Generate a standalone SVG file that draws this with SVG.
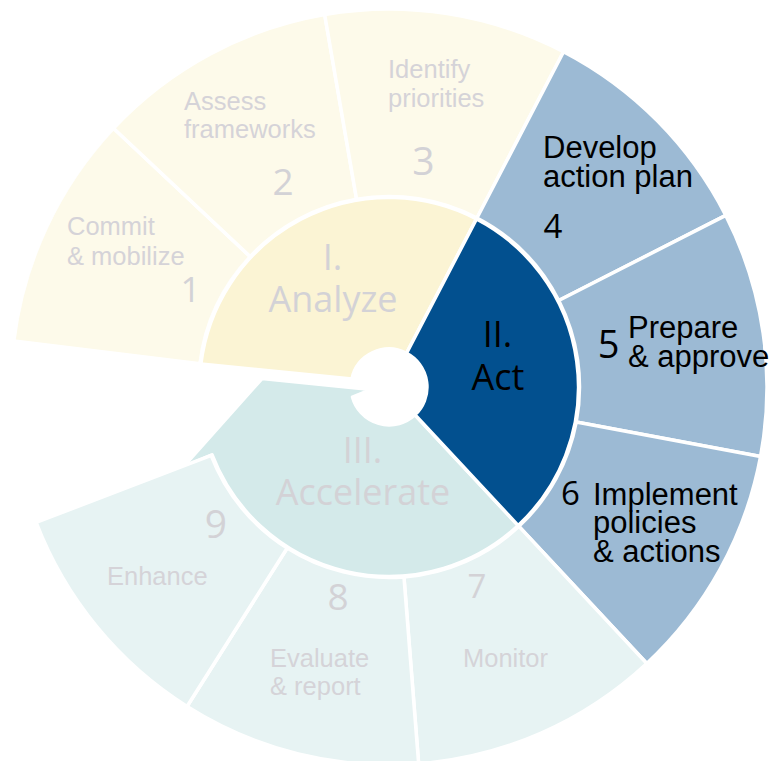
<svg xmlns="http://www.w3.org/2000/svg" width="772" height="761" viewBox="0 0 772 761">
<style>
.sh{stroke:#FFFFFF;stroke-width:3.5;stroke-linejoin:round}
.y1{fill:#FBF4D4}.y2{fill:#FDFAEA}
.b1{fill:#02508F}.b2{fill:#9CBAD4}
.t1{fill:#D4EAEA}.t2{fill:#E7F3F3}
.lab{font-family:"Liberation Sans",Arial,sans-serif}
.g{fill:#D5D3D8;font-size:25.5px}
.k{fill:#000000;font-size:31px}
.num{font-family:"Open Sans","Noto Sans",sans-serif;text-anchor:middle}
.big{font-family:"Open Sans","Noto Sans",sans-serif;font-size:36px;text-anchor:middle}
.gi{fill:#D3D2D6}
</style>
<rect width="772" height="761" fill="#FFFFFF"/>
<g id="ring-outer">
<g id="seg1"><path class="sh y2" d="M199.92,363.78 L13.82,340.93 A378,378 0 0 1 113.45,128.24 L250.13,256.59 A190.5,190.5 0 0 0 199.92,363.78 Z"/>
<text class="lab g" x="67" y="235">Commit</text><text class="lab g" x="67" y="265">&amp; mobilize</text>
<text class="num gi" x="190.5" y="302" font-size="35">1</text></g>
<g id="seg2"><path class="sh y2" d="M250.13,256.59 L113.45,128.24 A378,378 0 0 1 324.66,14.51 L356.57,199.28 A190.5,190.5 0 0 0 250.13,256.59 Z"/>
<text class="lab g" x="184" y="110">Assess</text><text class="lab g" x="184" y="138">frameworks</text>
<text class="num gi" x="283" y="195" font-size="37">2</text></g>
<g id="seg3"><path class="sh y2" d="M356.57,199.28 L324.66,14.51 A378,378 0 0 1 563.54,51.71 L476.96,218.02 A190.5,190.5 0 0 0 356.57,199.28 Z"/>
<text class="lab g" x="388" y="78">Identify</text><text class="lab g" x="388" y="107">priorities</text>
<text class="num gi" x="423.5" y="175" font-size="39">3</text></g>
<g id="seg4"><path class="sh b2" d="M476.96,218.02 L563.54,51.71 A378,378 0 0 1 725.80,215.39 L558.74,300.51 A190.5,190.5 0 0 0 476.96,218.02 Z"/>
<text class="lab k" x="543" y="158">Develop</text><text class="lab k" x="543" y="187">action plan</text>
<text class="num" x="553" y="238" font-size="33">4</text></g>
<g id="seg5"><path class="sh b2" d="M558.74,300.51 L725.80,215.39 A378,378 0 0 1 760.55,456.53 L576.25,422.04 A190.5,190.5 0 0 0 558.74,300.51 Z"/>
<text class="lab k" x="628" y="338">Prepare</text><text class="lab k" x="628" y="367">&amp; approve</text>
<text class="num" x="608.5" y="358" font-size="38">5</text></g>
<g id="seg6"><path class="sh b2" d="M576.25,422.04 L760.55,456.53 A378,378 0 0 1 646.80,663.45 L518.92,526.32 A190.5,190.5 0 0 0 576.25,422.04 Z"/>
<text class="lab k" x="593" y="505">Implement</text><text class="lab k" x="593" y="533">policies</text><text class="lab k" x="593" y="562">&amp; actions</text>
<text class="num" x="570.5" y="505" font-size="33">6</text></g>
<g id="seg7"><path class="sh t2" d="M518.92,526.32 L646.80,663.45 A378,378 0 0 1 418.66,763.84 L403.95,576.91 A190.5,190.5 0 0 0 518.92,526.32 Z"/>
<text class="lab g" x="463" y="667">Monitor</text>
<text class="num gi" x="477" y="598" font-size="33">7</text></g>
<g id="seg8"><path class="sh t2" d="M403.95,576.91 L418.66,763.84 A378,378 0 0 1 187.02,706.51 L287.21,548.02 A190.5,190.5 0 0 0 403.95,576.91 Z"/>
<text class="lab g" x="270" y="667">Evaluate</text><text class="lab g" x="270" y="695">&amp; report</text>
<text class="num gi" x="338" y="610" font-size="37">8</text></g>
</g>
<g id="phase3">
<path class="sh t1" d="M414.9,414.8 L518.24,525.59 A189.5,189.5 0 0 1 212.09,454.91 L183,467 L262,378.5 L371,389.5 L352.5,397 A38,38 0 0 0 414.9,414.8 Z"/>
<text class="big gi" x="362.5" y="463">III.</text><text class="big gi" x="363" y="505">Accelerate</text>
</g>
<g id="seg9"><path class="sh t2" d="M287.21,548.02 L187.02,706.51 A378,378 0 0 1 36.11,522.46 L211.15,455.27 A190.5,190.5 0 0 0 287.21,548.02 Z"/>
<text class="lab g" x="107" y="585">Enhance</text>
<text class="num gi" x="216" y="538" font-size="39">9</text></g>
<g id="phase1">
<path class="sh y1" d="M351.9,379 L200.9,363.9 A189.5,189.5 0 0 1 476.5,218.9 L406.5,353.3 A38,38 0 0 0 351.9,379 Z"/>
<text class="big gi" x="332.5" y="270">I.</text><text class="big gi" x="333" y="312">Analyze</text>
</g>
<g id="phase2">
<path class="sh b1" d="M406.5,353.3 L476.5,218.9 A189.5,189.5 0 0 1 518.24,525.59 L414.9,414.8 A38,38 0 0 0 406.5,353.3 Z"/>
<text class="big" x="497.5" y="347" fill="#000000">II.</text><text class="big" x="498" y="390" fill="#000000">Act</text>
</g>
<g id="connectors"></g>
</svg>
